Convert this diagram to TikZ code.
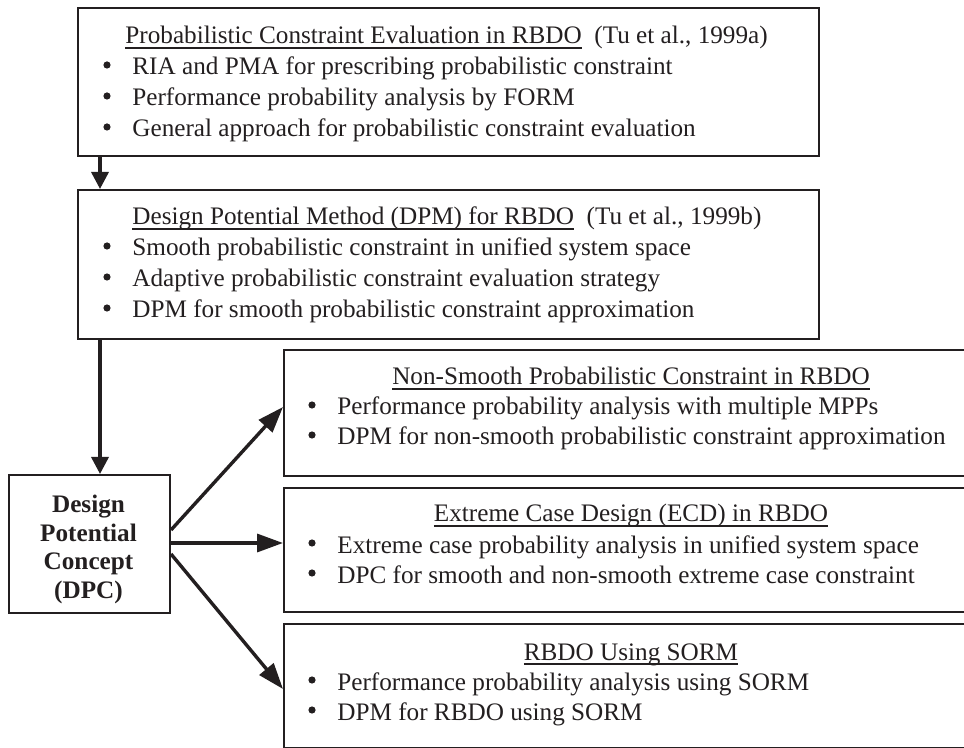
\documentclass[tikz,border=0pt]{standalone}
\usepackage{fontspec}
\setmainfont{Liberation Serif}
\usetikzlibrary{arrows.meta}
\definecolor{ink}{RGB}{35,31,32}
% underlined heading with a rule that crosses the descenders
\newcommand\titleul[1]{\setbox0=\hbox{#1}\rlap{\color{ink}\rule[-2.3pt]{\wd0}{0.9pt}}\box0}

\begin{document}
\begin{tikzpicture}[x=0.5pt,y=-0.5pt,
  box/.style={draw=ink, line width=1pt, rectangle, inner sep=0pt, anchor=north west},
  txt/.style={anchor=base west, inner sep=0pt, text=ink, font=\fontsize{12.6}{15.5}\selectfont},
  ctxt/.style={txt, anchor=base},
  btxt/.style={txt, anchor=base, font=\fontsize{12.6}{15.5}\selectfont\bfseries},
  dot/.style={circle, fill=ink, inner sep=0pt, minimum size=3.6pt},
  flow/.style={draw=ink, line width=1.7pt, -{Triangle[length=8.5pt,width=8.5pt]}},
  fan/.style={draw=ink, line width=1.7pt, -{Triangle[length=13pt,width=9pt]}}]

\clip (0,0) rectangle (964,748);

% boxes
\node[box, minimum width=370.5pt, minimum height=74pt] (pce) at (77,7) {};
\node[box, minimum width=370.5pt, minimum height=74.5pt] (dpm) at (77,189) {};
\node[box, minimum width=80.5pt, minimum height=69pt] (dpc) at (8,474) {};
\node[box, minimum width=360pt, minimum height=63pt] (nsc) at (283,349) {};
\node[box, minimum width=360pt, minimum height=62pt] (ecd) at (283,487) {};
\node[box, minimum width=360pt, minimum height=61.75pt] (sorm) at (283,623) {};

% probabilistic constraint evaluation
\node[txt] (pce-t) at (125,44) {\titleul{Probabilistic Constraint Evaluation in RBDO}\ \ (Tu et al., 1999a)};
\node[dot] (pce-b1) at (107,65) {};
\node[txt] (pce-1) at (132,75) {RIA and PMA for prescribing probabilistic constraint};
\node[dot] (pce-b2) at (107,96) {};
\node[txt] (pce-2) at (132,106) {Performance probability analysis by FORM};
\node[dot] (pce-b3) at (107,127) {};
\node[txt] (pce-3) at (132,137) {General approach for probabilistic constraint evaluation};

% design potential method
\node[txt] (dpm-t) at (132,225) {\titleul{Design Potential Method (DPM) for RBDO}\ \ (Tu et al., 1999b)};
\node[dot] (dpm-b1) at (107,246) {};
\node[txt] (dpm-1) at (132,256) {Smooth probabilistic constraint in unified system space};
\node[dot] (dpm-b2) at (107,277) {};
\node[txt] (dpm-2) at (132,287) {Adaptive probabilistic constraint evaluation strategy};
\node[dot] (dpm-b3) at (107,308) {};
\node[txt] (dpm-3) at (132,318) {DPM for smooth probabilistic constraint approximation};

% design potential concept
\node[btxt] (dpc-1) at (88.5,512) {Design};
\node[btxt] (dpc-2) at (88.5,541) {Potential};
\node[btxt] (dpc-3) at (88.5,569) {Concept};
\node[btxt] (dpc-4) at (88.5,598) {(DPC)};

% non-smooth constraint
\node[ctxt] (nsc-t) at (631,385) {\titleul{Non-Smooth Probabilistic Constraint in RBDO}};
\node[dot] (nsc-b1) at (312,405) {};
\node[txt] (nsc-1) at (337,415) {Performance probability analysis with multiple MPPs};
\node[dot] (nsc-b2) at (312,435) {};
\node[txt] (nsc-2) at (337,445) {DPM for non-smooth probabilistic constraint approximation};

% extreme case design
\node[ctxt] (ecd-t) at (631,522) {\titleul{Extreme Case Design (ECD) in RBDO}};
\node[dot] (ecd-b1) at (312,543) {};
\node[txt] (ecd-1) at (337,553) {Extreme case probability analysis in unified system space};
\node[dot] (ecd-b2) at (312,573) {};
\node[txt] (ecd-2) at (337,583) {DPC for smooth and non-smooth extreme case constraint};

% SORM
\node[ctxt] (sorm-t) at (631,660) {\titleul{RBDO Using SORM}};
\node[dot] (sorm-b1) at (312,680) {};
\node[txt] (sorm-1) at (337,690) {Performance probability analysis using SORM};
\node[dot] (sorm-b2) at (312,710) {};
\node[txt] (sorm-2) at (337,720) {DPM for RBDO using SORM};

% connectors
\coordinate (xdown) at (100,0);
\coordinate (yup) at (0,530);
\coordinate (yupend) at (0,407);
\coordinate (ymid) at (0,543);
\coordinate (ylow) at (0,554);
\coordinate (ylowend) at (0,689);
\draw[flow] (pce.south -| xdown) -- (dpm.north -| xdown);
\draw[flow] (dpm.south -| xdown) -- (dpc.north -| xdown);
\draw[fan] (dpc.east |- yup) -- (nsc.west |- yupend);
\draw[fan] (dpc.east |- ymid) -- (ecd.west |- ymid);
\draw[fan] (dpc.east |- ylow) -- (sorm.west |- ylowend);
\end{tikzpicture}
\end{document}
